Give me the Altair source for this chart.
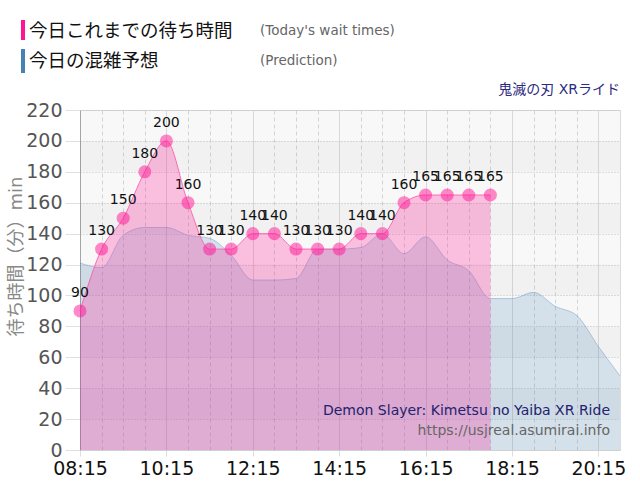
import altair as alt
import pandas as pd

# Today's observed wait times (every 30 min from 08:15)
actual_times = ["08:15", "08:45", "09:15", "09:45", "10:15", "10:45", "11:15", "11:45",
                "12:15", "12:45", "13:15", "13:45", "14:15", "14:45", "15:15", "15:45",
                "16:15", "16:45", "17:15", "17:45"]
actual_values = [90, 130, 150, 180, 200, 160, 130, 130, 140, 140, 130, 130, 130, 140, 140,
                 160, 165, 165, 165, 165]

# Prediction (every 30 min from 08:15 to 20:45)
pred_times = ["08:15", "08:45", "09:15", "09:45", "10:15", "10:45", "11:15", "11:45",
              "12:15", "12:45", "13:15", "13:45", "14:15", "14:45", "15:15", "15:45",
              "16:15", "16:45", "17:15", "17:45", "18:15", "18:45", "19:15", "19:45",
              "20:15", "20:45"]
pred_values = [121, 118, 139, 144, 144, 139, 137, 126, 110, 110, 111, 130, 130, 131, 140,
               127, 138, 123, 116, 98, 98, 102, 93, 87, 67, 48]

band_lows = [0, 20, 40, 60, 80, 100, 120, 140, 160, 180, 200]
y_ticks = [0, 20, 40, 60, 80, 100, 120, 140, 160, 180, 200, 220]


def to_min(s):
    h, m = s.split(":")
    return int(h) * 60 + int(m)


actual = pd.DataFrame({"t": [to_min(s) for s in actual_times], "v": actual_values})
pred = pd.DataFrame({"t": [to_min(s) for s in pred_times], "v": pred_values})
bands = pd.DataFrame({
    "v": band_lows,
    "hi": [b + 20 for b in band_lows],
    "shade": ["a" if b % 40 == 0 else "b" for b in band_lows],
})

X0, X1 = 495, 1245
W, H = 540, 340
FONT = "DejaVu Sans, Noto Sans CJK JP"
ydom = alt.Scale(domain=[0, 220], nice=False, zero=True)
xdom = alt.Scale(domain=[X0, X1], nice=False, zero=False)

major = "datum.value % 120 == 15"
label_expr = ("datum.value % 120 == 15 ? "
              "(floor(datum.value/60) < 10 ? '0' : '') + floor(datum.value/60) + ':' + "
              "(datum.value % 60 < 10 ? '0' : '') + (datum.value % 60) : ''")

x_axis = alt.Axis(
    values=list(range(X0, X1 + 1, 30)),
    labelExpr=label_expr,
    labelOverlap=False,
    labelFlush=False,
    labelBound=False,
    labelFont=FONT,
    labelFontSize=19,
    labelColor="#111111",
    labelPadding=3,
    title=None,
    grid=True,
    gridColor={"condition": {"test": major, "value": "#e0e0e0"}, "value": "#dadada"},
    gridDash={"condition": {"test": major, "value": []}, "value": [4, 3]},
    gridWidth=1,
    tickColor="#dddddd",
    tickSize=6,
    tickOpacity={"condition": {"test": major, "value": 1}, "value": 0},
    domainColor="#d0d0d0",
)

y_axis = alt.Axis(
    values=y_ticks,
    labelFont=FONT,
    labelFontSize=19,
    labelColor="#555555",
    labelPadding=3,
    tickSize=15,
    tickColor="#e0e0e0",
    grid=True,
    gridColor="#c8c8c8",
    gridDash=[1, 2],
    domainColor="#aaaaaa",
    title="待ち時間（分）min",
    titleFont=FONT,
    titleFontSize=18,
    titleFontWeight="normal",
    titleColor="#888888",
    titleAngle=-90,
    titleX=-64,
    titleY=146,
    titleAlign="center",
    titleBaseline="middle",
)


def X():
    return alt.X("t:Q", scale=xdom, axis=x_axis)


def Y():
    return alt.Y("v:Q", scale=ydom, axis=y_axis)


band_layer = alt.Chart(bands).mark_rect(color="black").encode(
    x=alt.value(0),
    x2=alt.value(W),
    y=Y(),
    y2="hi:Q",
    opacity=alt.Opacity("shade:N", scale=alt.Scale(domain=["a", "b"], range=[0.028, 0.056]),
                        legend=None),
)

pred_area = alt.Chart(pred).mark_area(
    interpolate="monotone", color="steelblue", opacity=0.2,
).encode(x=X(), y=Y())

pred_line = alt.Chart(pred).mark_line(
    interpolate="monotone", color="steelblue", opacity=0.35, strokeWidth=1,
).encode(x=X(), y=Y())

act_area = alt.Chart(actual).mark_area(
    interpolate="monotone", color="#ff1493", opacity=0.25,
).encode(x=X(), y=Y())

act_line = alt.Chart(actual).mark_line(
    interpolate="monotone", color="#ff4fa7", opacity=0.8, strokeWidth=1,
).encode(x=X(), y=Y())

act_points = alt.Chart(actual).mark_circle(
    color="#ff1493", opacity=0.5, size=170,
).encode(x=X(), y=Y())

act_labels = alt.Chart(actual).mark_text(
    font=FONT, fontSize=14, color="#111111", dy=-18, baseline="middle", align="center",
).encode(x=X(), y=Y(), text="v:Q")


def txt(s, x, y, size, color, align="left"):
    return alt.Chart(pd.DataFrame({"s": [s]})).mark_text(
        font=FONT, fontSize=size, color=color, align=align, baseline="middle",
    ).encode(x=alt.value(x), y=alt.value(y), text="s:N")


def bar(y1, y2, color):
    return alt.Chart(pd.DataFrame({"a": [0]})).mark_rect(color=color).encode(
        x=alt.value(-59), x2=alt.value(-55), y=alt.value(y1), y2=alt.value(y2)
    )


decor = [
    bar(-90, -70, "#ff1493"),
    bar(-61, -37, "steelblue"),
    txt("今日これまでの待ち時間", -51, -79, 18.5, "#111111"),
    txt("(Today's wait times)", 180, -79, 13.5, "#666666"),
    txt("今日の混雑予想", -51, -49, 18.5, "#111111"),
    txt("(Prediction)", 180, -49, 13.5, "#666666"),
    txt("鬼滅の刃 XRライド", W, -20, 14, "#2b2b80", align="right"),
    txt("Demon Slayer: Kimetsu no Yaiba XR Ride", 530, 301, 14, "#22226e", align="right"),
    txt("https://usjreal.asumirai.info", 530, 321, 14, "#666666", align="right"),
]

chart = alt.layer(
    band_layer, pred_area, pred_line, act_area, act_line, act_points, act_labels, *decor
).properties(
    width=W, height=H,
    autosize=alt.AutoSizeParams(type="none"),
    padding={"left": 80, "top": 110, "right": 20, "bottom": 50},
).configure_view(stroke=None).configure(background="white")

chart.save("out.html", embed_options={"renderer": "svg", "actions": False})
